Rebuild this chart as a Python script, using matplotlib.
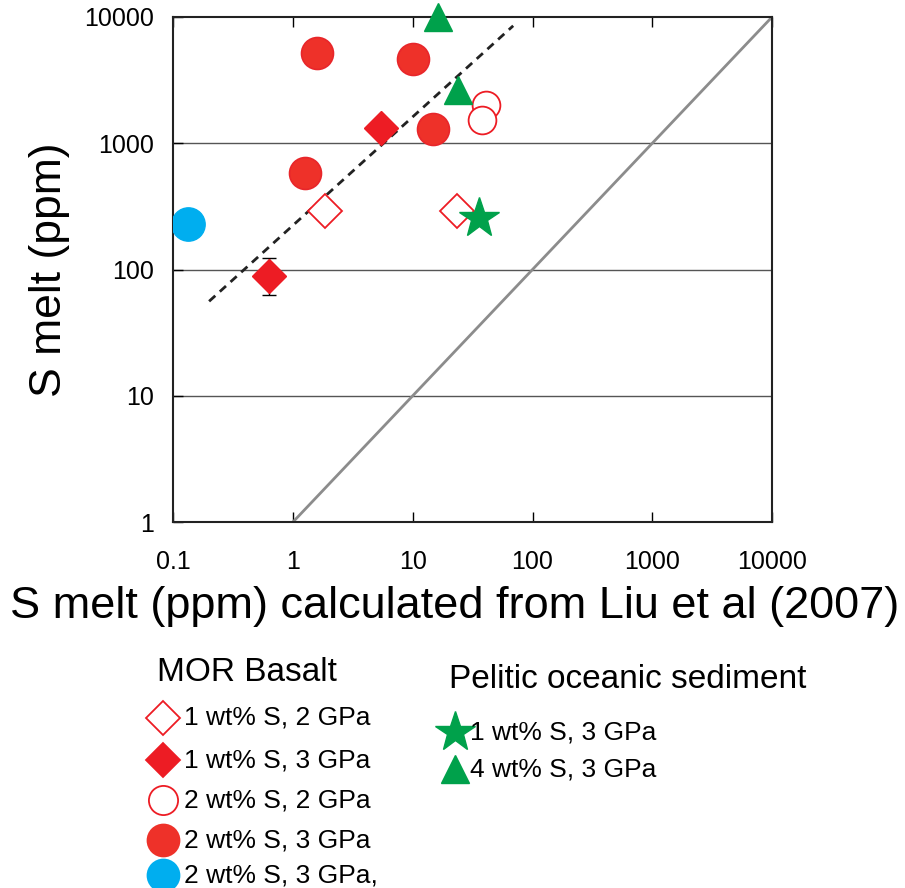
import matplotlib
matplotlib.use('Agg')
import matplotlib.pyplot as plt
from matplotlib.lines import Line2D

plt.rcParams['font.family'] = ['Liberation Sans', 'DejaVu Sans']

# MOR basalt data (calculated, measured) in ppm
open_dia_x = [1.85, 23.3]
open_dia_y = [290, 290]
fill_dia_x = [5.4, 0.63]
fill_dia_y = [1320, 89]
fill_dia_err_lo = [0, 26]
fill_dia_err_hi = [0, 34]
open_circ_x = [41, 37.6]
open_circ_y = [2010, 1530]
fill_circ_x = [1.58, 10.0, 14.7, 1.26]
fill_circ_y = [5190, 4650, 1300, 580]
blue_x = [0.133]
blue_y = [229]

# pelitic sediment
star_x = [35.5]
star_y = [256]
tri_x = [16.2, 23.7]
tri_y = [10000, 2640]

# dashed fit and 1:1 line
fit_x = [0.2, 69]
fit_y = [56, 8500]
one_x = [1, 10000]
one_y = [1, 10000]

ticks = [0.1, 1, 10, 100, 1000, 10000]
tick_labels = ['0.1', '1', '10', '100', '1000', '10000']
yticks = [1, 10, 100, 1000, 10000]
ytick_labels = ['1', '10', '100', '1000', '10000']

red = '#ED1C24'
red2 = '#EE3129'
blue = '#00AEEF'
green = '#00A14B'

fig = plt.figure(figsize=(9.05, 8.88), dpi=100)
ax = fig.add_axes([0.1912, 0.412, 0.662, 0.569])
ax.set_xscale('log')
ax.set_yscale('log')
ax.set_xlim(0.1, 10000)
ax.set_ylim(1, 10000)

for yv in [10, 100, 1000]:
    ax.axhline(yv, color='#555555', lw=1.0, zorder=1)

ax.plot(one_x, one_y, color='#8c8c8c', lw=2, zorder=2)
ax.plot(fit_x, fit_y, color='#222222', lw=2, ls=(0, (3, 2.2)), zorder=3)

ax.plot(open_dia_x, open_dia_y, 'D', ms=17, mfc='white', mec=red, mew=1.3, ls='none', zorder=4)
ax.errorbar(fill_dia_x, fill_dia_y, yerr=[fill_dia_err_lo, fill_dia_err_hi], fmt='none',
            ecolor='black', elinewidth=1, capsize=5, zorder=4)
ax.plot(fill_dia_x, fill_dia_y, 'D', ms=17, mfc=red, mec=red, ls='none', zorder=5)
ax.plot(open_circ_x, open_circ_y, 'o', ms=20, mfc='white', mec=red, mew=1.3, ls='none', zorder=4)
ax.plot(fill_circ_x, fill_circ_y, 'o', ms=23, mfc=red2, mec='#E8262A', mew=1.2, ls='none', zorder=5)
ax.plot(blue_x, blue_y, 'o', ms=24, mfc=blue, mec=blue, ls='none', zorder=5)
ax.plot(star_x, star_y, '*', ms=30, mfc=green, mec=green, ls='none', zorder=6)
ax.plot(tri_x, tri_y, '^', ms=20, mfc=green, mec=green, ls='none', zorder=6, clip_on=False)

ax.set_xticks(ticks)
ax.set_xticklabels(tick_labels)
ax.set_yticks(yticks)
ax.set_yticklabels(ytick_labels)
ax.minorticks_off()
ax.tick_params(direction='in', length=7, width=1, top=True, right=False, labelsize=18, colors='black')
ax.tick_params(axis='x', pad=20)
ax.tick_params(axis='y', pad=14)
for s in ax.spines.values():
    s.set_linewidth(1.5)
    s.set_color('#222222')

ax.set_ylabel('S melt (ppm)', fontsize=32, labelpad=10)
# x label sits a little left of the axes centre in the original
fig.text(455 / 905, 1 - 606 / 888, 'S melt (ppm) calculated from Liu et al (2007)',
         fontsize=32.5, ha='center', va='center')

# legend drawn by hand
mor_labels = ['1 wt% S, 2 GPa', '1 wt% S, 3 GPa', '2 wt% S, 2 GPa', '2 wt% S, 3 GPa', '2 wt% S, 3 GPa,']
mor_style = [('D', 'white', red, 17), ('D', red, red, 17), ('o', 'white', red, 21),
             ('o', red2, red2, 23), ('o', blue, blue, 23)]
sed_labels = ['1 wt% S, 3 GPa', '4 wt% S, 3 GPa']
sed_style = [('*', green, green, 30), ('^', green, green, 20)]

fig.text(157 / 905, 1 - 672 / 888, 'MOR Basalt', fontsize=24, va='center', ha='left')
ys = [718, 760, 800, 840, 875]
for lab, (m, fc, ec, ms), yp in zip(mor_labels, mor_style, ys):
    fig.add_artist(Line2D([163 / 905], [1 - yp / 888], marker=m, ms=ms, mfc=fc, mec=ec,
                          mew=1.3, ls='none', transform=fig.transFigure))
    fig.text(184 / 905, 1 - yp / 888, lab, fontsize=19, va='center', ha='left')

fig.text(449 / 905, 1 - 679 / 888, 'Pelitic oceanic sediment', fontsize=24, va='center', ha='left')
for lab, (m, fc, ec, ms), yp in zip(sed_labels, sed_style, [732, 769]):
    fig.add_artist(Line2D([455 / 905], [1 - yp / 888], marker=m, ms=ms, mfc=fc, mec=ec,
                          ls='none', transform=fig.transFigure))
    fig.text(470 / 905, 1 - yp / 888, lab, fontsize=19, va='center', ha='left')

fig.savefig('out.png', dpi=100)
